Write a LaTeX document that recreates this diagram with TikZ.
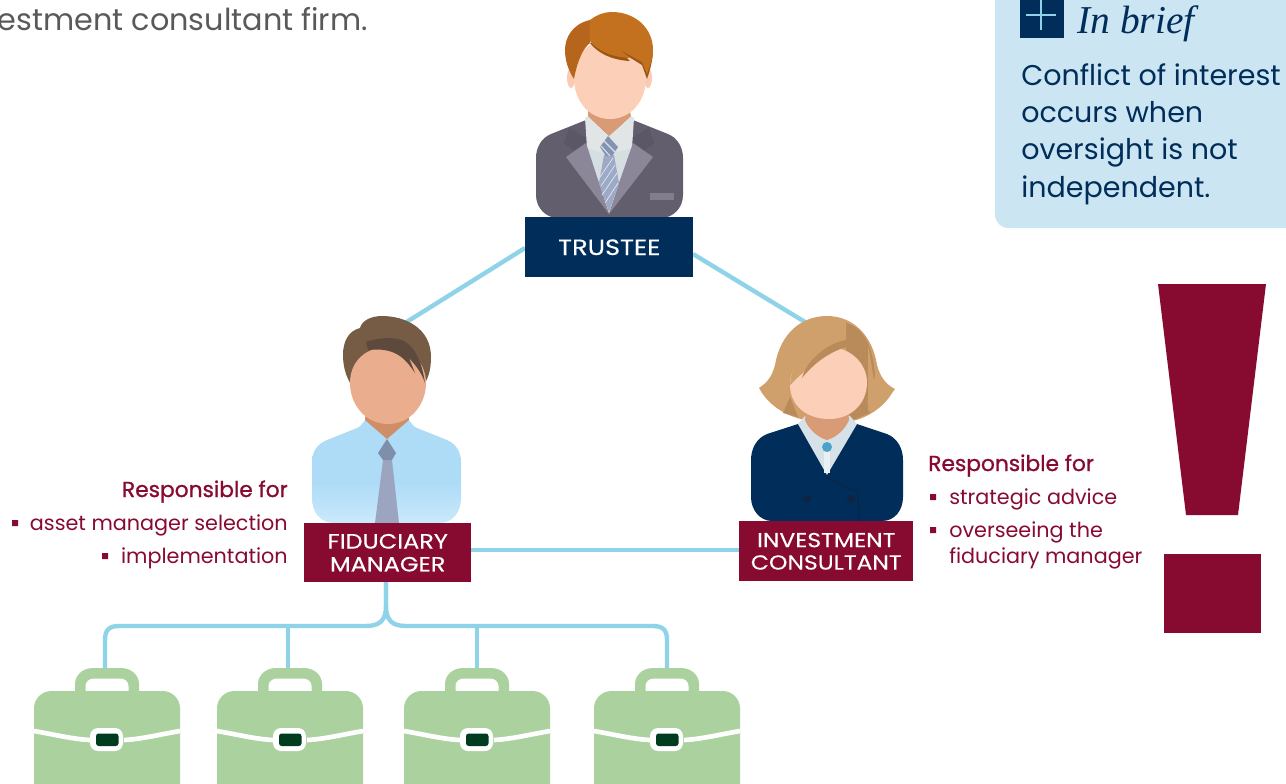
\documentclass[tikz,border=0pt]{standalone}
\usepackage{fontspec}
\setmainfont{Poppins}
\newfontfamily\briefserif{Liberation Serif}
\newfontfamily\rolefont[FakeStretch=1.16,FakeBold=0.25]{Poppins}
\newfontfamily\headfont[FakeBold=1]{Poppins}
\usetikzlibrary{backgrounds}
\definecolor{navy}{HTML}{002D5A}
\definecolor{wine}{HTML}{870B30}
\definecolor{linkblue}{HTML}{8FD3E8}
\definecolor{boxblue}{HTML}{CBE6F2}
\definecolor{bagreen}{HTML}{ABD29E}
\definecolor{bagdark}{HTML}{003D1E}
\definecolor{skin}{HTML}{FCCFB8}
\definecolor{skinear}{HTML}{F9CBB3}
\definecolor{neckt}{HTML}{D99B75}
\definecolor{suit}{HTML}{625E6E}
\definecolor{suitdark}{HTML}{5B5767}
\definecolor{lapel}{HTML}{8C8798}
\definecolor{shirtw}{HTML}{E1E5E5}
\definecolor{shirti}{HTML}{D5DEE0}
\definecolor{tiet}{HTML}{9DAAC7}
\definecolor{tiek}{HTML}{8394B3}
\definecolor{hairt}{HTML}{C4711F}
\definecolor{hairtl}{HTML}{B5661C}
\definecolor{hairtd}{HTML}{9A5510}
\definecolor{fskin}{HTML}{EAAD8D}
\definecolor{fneck}{HTML}{CF8E68}
\definecolor{fshirt}{HTML}{AEDCF7}
\definecolor{fshirtl}{HTML}{CBE9FB}
\definecolor{ftiek}{HTML}{7F8EA9}
\definecolor{ftie}{HTML}{9CA5C0}
\definecolor{fhair}{HTML}{775C45}
\definecolor{fhaird}{HTML}{5E4A3D}
\definecolor{ihair}{HTML}{D0A06C}
\definecolor{ihaird}{HTML}{B98A5A}
\definecolor{icollar}{HTML}{D6E2E8}
\definecolor{ibtn}{HTML}{4BA3C7}
\definecolor{ibtnd}{HTML}{0F2440}
\definecolor{greytext}{HTML}{58595B}
\pgfdeclareverticalshading{fidshade}{100bp}{color(0bp)=(fshirtl); color(25bp)=(fshirtl); color(44bp)=(fshirt); color(100bp)=(fshirt)}
\tikzset{
  x=0.75pt,y=-0.75pt,
  rolebox/.style={inner sep=0pt,align=center,text=white},
  link/.style={draw=linkblue,line width=3.3pt},
  sidetext/.style={inner sep=0pt,text=wine,font=\fontsize{15.55}{19.5}\selectfont},
  sidehead/.style={inner sep=0pt,text=wine,font=\headfont\fontsize{16.3}{19.5}\selectfont},
  bullet/.style={fill=wine,draw=none},
  pics/bag/.style={code={
    \fill[bagreen] (-32,14) -- (-32,4) .. controls (-32,-5) and (-24,-12) .. (-14,-12) -- (14,-12) .. controls (24,-12) and (32,-5) .. (32,4) -- (32,14) -- cycle;
    \fill[white] (-21.5,14) -- (-21.5,6) .. controls (-21.5,2) and (-18,-1.5) .. (-13,-1.5) -- (13,-1.5) .. controls (18,-1.5) and (21.5,2) .. (21.5,6) -- (21.5,14) -- cycle;
    \fill[bagreen,rounded corners=13] (-73,11) rectangle (73,125);
    \draw[white,line width=3.5pt] (-73,51) .. controls (-50,55) and (-35,59) .. (-17,60);
    \draw[white,line width=3.5pt] (73,51) .. controls (50,55) and (35,59) .. (17,60);
    \fill[white,rounded corners=6] (-17,48) rectangle (16,71);
    \fill[bagdark,rounded corners=2] (-11,53.5) rectangle (11.5,66);
  }}
}
\begin{document}
\begin{tikzpicture}
\useasboundingbox (0,0) rectangle (1286,783);
\clip (0,0) rectangle (1286,783);
% top text
\node[anchor=base east,inner sep=0pt,text=greytext,font=\fontsize{22.7}{26}\selectfont] (toptext) at (368,30) {estment consultant firm.};
% In brief box
\fill[boxblue,rounded corners=10] (995,-20) rectangle (1310,228);
\fill[navy] (1020,-5) rectangle (1064,38);
\draw[linkblue,line width=1pt] (1026,15) -- (1056,15) (1041,0) -- (1041,30);
\node[anchor=base west,inner sep=0pt,text=navy,font=\briefserif\itshape\fontsize{29.6}{30}\selectfont] (brief) at (1077,33) {In brief};
\node[anchor=base west,inner sep=0pt,text=navy,font=\fontsize{21.4}{27.8}\selectfont,align=left] (bodytext) at (1021,197) {Conflict of interest\\occurs when\\oversight is not\\independent.};
% exclamation mark
\fill[wine] (1158,284) -- (1266,284) -- (1238,515) -- (1186,515) -- cycle;
\fill[wine] (1164,554) rectangle (1261,633);
% trustee person
\fill[skinear] (571,78) ellipse (4 and 10) (648,78) ellipse (4 and 10);
\fill[neckt] (588,110) rectangle (630,128);
\fill[suit] (586,120) -- (551,134) .. controls (541,138) and (536,148) .. (536,158) -- (536,195) .. controls (536,208) and (546,218) .. (558,218) -- (661,218) .. controls (673,218) and (683,208) .. (683,195) -- (683,158) .. controls (683,148) and (678,138) .. (668,134) -- (633,120) -- cycle;
\fill[suitdark] (569,128) -- (564,143) -- (576,152) -- (590,140) -- cycle (649,128) -- (654,143) -- (642,152) -- (628,140) -- cycle;
\fill[shirti] (586,145) -- (609,214) -- (633,145) -- (609,130) -- cycle;
\fill[shirtw] (585,118) -- (587,148) -- (600,152) -- (609,136) -- (618,152) -- (632,148) -- (634,118) -- (631,116) -- (609,136) -- (588,116) -- cycle;
\fill[neckt] (588,112) -- (630,112) -- (631,116) -- (609,136) -- (588,116) -- cycle;
\fill[lapel] (566,157) -- (586,143) -- (599,183) -- (609,214) -- cycle;
\fill[lapel] (653,157) -- (633,143) -- (619,183) -- (609,214) -- cycle;
\fill[tiet] (604,155) -- (614,155) -- (619,183) -- (609,212) -- (599,183) -- cycle;
\draw[white!75!tiet,line width=.5pt] (601,186) -- (615,165) (602,195) -- (617,173) (605,203) -- (618,183) (600,177) -- (613,158);
\fill[tiek] (600,147) -- (608,136) -- (618,147) -- (612,156) -- (606,156) -- cycle;
\draw[white!70!tiek,line width=.8pt] (604,141) -- (615,152) (601,146) -- (610,156);
\fill[suit!80!white] (650,193) rectangle (674,200);
\fill[skin] (610,38) .. controls (590,38) and (574,56) .. (574,78) .. controls (574,102) and (590,119) .. (610,119) .. controls (630,119) and (646,102) .. (646,78) .. controls (646,56) and (630,38) .. (610,38) -- cycle;
\fill[hairtl] (574,79) .. controls (568,70) and (565,60) .. (565,50) .. controls (565,38) and (572,24) .. (590,20) -- (590,43) .. controls (583,48) and (577,62) .. (574,79) -- cycle;
\fill[hairtd] (590,43) .. controls (597,52) and (610,60) .. (630,61) -- (621,52) -- (642,65) -- (647,79) .. controls (650,70) and (653,60) .. (653,50) -- (620,35) -- cycle;
\fill[hairt] (590,20) -- (590,41) .. controls (597,50) and (610,57) .. (630,58) -- (620,50) -- (642,62) -- (647,74) .. controls (650,66) and (653,58) .. (653,50) .. controls (653,28) and (635,12) .. (612,12) .. controls (605,12) and (598,14) .. (590,20) -- cycle;
\node[minimum width=126pt,minimum height=45pt,fill=navy,rolebox,anchor=north west,font=\rolefont\fontsize{16.6}{17.2}\selectfont] (trustee) at (525,217) {TRUSTEE};
% fiduciary person
\path[shading=fidshade] (365,420) .. controls (362,424) and (360,427) .. (357,428) -- (327,440) .. controls (317,444) and (312,452) .. (312,462) -- (312,498) .. controls (312,512) and (320,523) .. (334,523) -- (439,523) .. controls (453,523) and (461,512) .. (461,498) -- (461,462) .. controls (461,452) and (456,444) .. (447,440) -- (417,428) .. controls (414,427) and (412,424) .. (409,420) -- cycle;
\fill[fneck] (366,410) -- (408,410) -- (409,420) -- (387,439) -- (365,420) -- cycle;
\fill[ftie] (383,460) -- (392,460) -- (399,523) -- (375,523) -- cycle;
\fill[ftiek] (387,439) -- (396,453) -- (392,460) -- (383,460) -- (378,453) -- cycle;
\fill[fhair] (350,383) .. controls (344,372) and (343,362) .. (343,355) .. controls (343,342) and (348,331) .. (360,328) .. controls (362,320) and (372,316) .. (382,316) .. controls (405,316) and (431,328) .. (431,357) .. controls (431,368) and (429,376) .. (425,383) -- (388,360) -- cycle;
\fill[fskin] (388,347) .. controls (365,347) and (350,362) .. (350,383) .. controls (350,405) and (366,424) .. (388,424) .. controls (410,424) and (426,405) .. (426,383) .. controls (426,362) and (410,347) .. (388,347) -- cycle;
\fill[fhaird] (366,342) .. controls (380,337) and (396,337) .. (404,341) .. controls (415,347) and (422,362) .. (425,383) .. controls (422,374) and (418,368) .. (409,358) -- (415,373) .. controls (405,358) and (395,347) .. (368,350) -- cycle;
\node[minimum width=125.25pt,minimum height=44.25pt,fill=wine,rolebox,anchor=north west,font=\rolefont\fontsize{15.5}{17.2}\selectfont] (fiduciary) at (304,523) {FIDUCIARY\\MANAGER};
% investment consultant person
\fill[ihair] (759,388) .. controls (768,382) and (772,376) .. (775,365) .. controls (780,335) and (800,316) .. (827,316) .. controls (855,316) and (873,338) .. (877,365) .. controls (880,376) and (885,384) .. (895,389) -- (892,393) .. controls (885,405) and (870,418) .. (848,422) -- (805,420) .. controls (785,416) and (770,405) .. (762,393) -- cycle;
\fill[ihaird] (846,323) .. controls (866,328) and (873,350) .. (875,375) -- (868,400) -- (850,420) -- (846,345) -- cycle;
\fill[ihaird] (783,413) -- (790,397) -- (798,417) -- cycle (848,422) -- (867,400) -- (870,413) -- cycle;
\fill[ihair] (868,345) .. controls (872,365) and (873,380) .. (878,400) -- (868,412) -- (868,380) -- cycle;
\fill[navy] (798,424) -- (767,434) .. controls (757,438) and (751,448) .. (751,460) -- (751,497) .. controls (751,510) and (760,521) .. (772,521) -- (882,521) .. controls (895,521) and (903,510) .. (903,497) -- (903,460) .. controls (903,448) and (897,438) .. (887,434) -- (857,424) -- cycle;
\fill[icollar] (798,424) -- (827,475) -- (857,424) -- (850,416) -- (805,416) -- cycle;
\fill[neckt] (806,410) -- (848,410) -- (849,420) .. controls (845,430) and (835,438) .. (827,440) .. controls (819,438) and (809,430) .. (805,420) -- cycle;
\fill[white!50!icollar] (824,452) rectangle (830,473);
\fill[ibtn] (827,447) circle (5);
\fill[ibtnd] (807,499) circle (4) (851,499) circle (4);
\draw[ibtnd,line width=.8pt] (828,477) .. controls (838,484) and (848,488) .. (858,492) -- (859,521);
\fill[skin] (828,347) .. controls (805,347) and (790,365) .. (790,385) .. controls (790,405) and (806,419) .. (829,419) .. controls (850,419) and (867,405) .. (867,382) .. controls (867,365) and (852,347) .. (828,347) -- cycle;
\fill[ihair] (846,323) -- (846,347) .. controls (825,352) and (805,370) .. (790,385) .. controls (792,355) and (815,325) .. (846,323) -- cycle;
\fill[ihaird] (846,340) -- (846,347) .. controls (830,352) and (815,362) .. (802,378) .. controls (806,362) and (825,344) .. (846,340) -- cycle;
\node[minimum width=130.5pt,minimum height=45pt,fill=wine,rolebox,anchor=north west,font=\rolefont\fontsize{15.2}{16.8}\selectfont] (investment) at (739,521) {INVESTMENT\\CONSULTANT};
% side text left
\node[sidehead,anchor=base east] (leftresp) at (288,497) {Responsible for};
\node[sidetext,anchor=base east] (leftone) at (288,530) {asset manager selection};
\node[sidetext,anchor=base east] (lefttwo) at (288,563) {implementation};
\fill[bullet] (12,520) rectangle (18,526) (102,553) rectangle (108,559);
% side text right
\node[sidehead,anchor=base west] (rightresp) at (928,471) {Responsible for};
\node[sidetext,anchor=base west] (rightone) at (949,504) {strategic advice};
\node[sidetext,anchor=base west,align=left] (righttwo) at (949,563) {overseeing the\\fiduciary manager};
\fill[bullet] (930,494) rectangle (936,500) (930,527) rectangle (936,533);
% briefcases
\path (107,680) pic {bag} (290,680) pic {bag} (477,680) pic {bag} (667,680) pic {bag};
\coordinate (bagone) at (105,668);
\coordinate (bagtwo) at (288,668);
\coordinate (bagthree) at (477,668);
\coordinate (bagfour) at (667,668);
\coordinate (fidtop) at (405,323);
\coordinate (invtop) at (805,322);
\coordinate (trusteeleft) at (525,248);
\coordinate (trusteeright) at (693,254);
\coordinate (fidbottom) at (386,582);
\coordinate (fidright) at (471,550);
\coordinate (invleft) at (739,550);
\coordinate (busleft) at (288,626);
\coordinate (busright) at (477,626);
% connectors
\begin{pgfonlayer}{background}
\draw[link] (trusteeleft) -- (fidtop);
\draw[link] (trusteeright) -- (invtop);
\draw[link] (fidright) -- (invleft);
\draw[link] (fidbottom) -- (386,606) .. controls (386,620) and (380,626) .. (366,626) -- (119,626) .. controls (109,626) and (105,630) .. (105,640) -- (bagone);
\draw[link] (fidbottom) -- (386,606) .. controls (386,620) and (392,626) .. (406,626) -- (653,626) .. controls (663,626) and (667,630) .. (667,640) -- (bagfour);
\draw[link] (busleft) -- (bagtwo);
\draw[link] (busright) -- (bagthree);
\end{pgfonlayer}
\end{tikzpicture}
\end{document}
